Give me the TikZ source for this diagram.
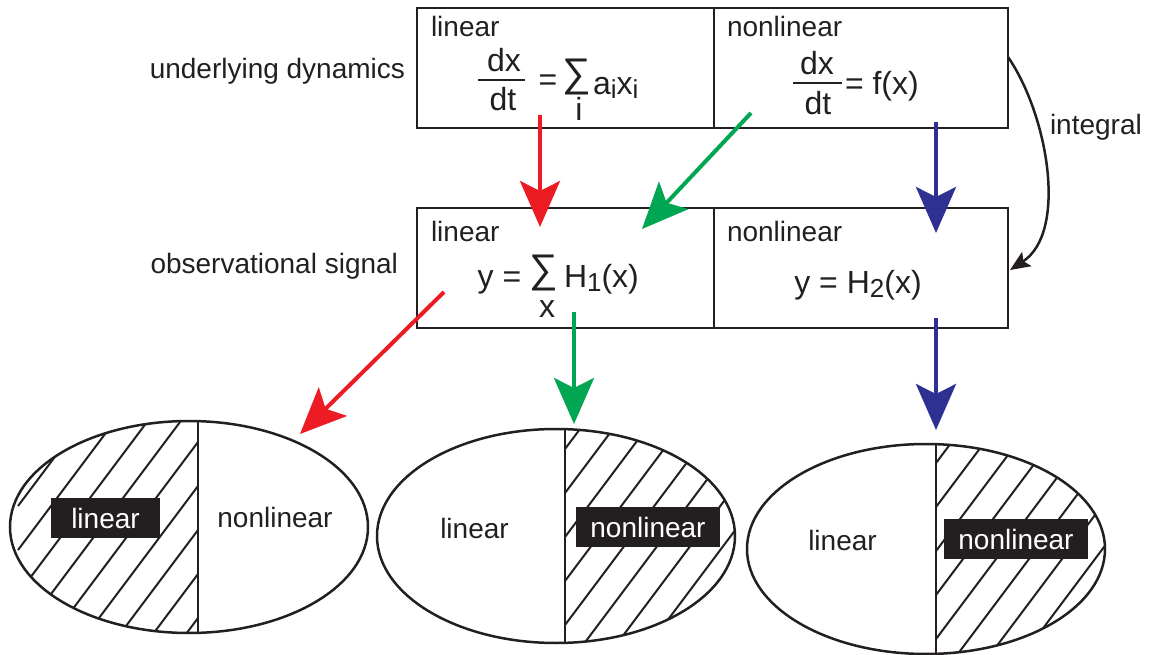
\documentclass[tikz,border=0pt]{standalone}
\usepackage{fontspec}
\setmainfont{Liberation Sans}
\usetikzlibrary{arrows.meta}
\definecolor{ink}{RGB}{35,31,32}
\definecolor{ared}{RGB}{237,28,36}
\definecolor{agreen}{RGB}{0,166,81}
\definecolor{ablue}{RGB}{46,49,146}
\newcommand{\sbs}[1]{\raisebox{-4pt}{\fontsize{26}{26}\selectfont #1}}
\newcommand{\eqf}{\fontsize{32}{38}\selectfont}
\newcommand{\bigsum}{\scalebox{1.25}{∑}}
\begin{document}
\begin{tikzpicture}[x=1pt,y=-1pt,
  every node/.style={inner sep=0pt, outer sep=0pt, text=ink},
  font=\fontsize{28}{34}\selectfont,
  cell/.style={draw=ink, line width=2.5pt, minimum height=120pt},
  bar/.style={draw=ink, line width=2pt},
  oval/.style={draw=ink, line width=2.5pt},
  hatch/.style={draw=ink, line width=2pt},
  tag/.style={fill=ink, text=white, text height=20pt, text depth=0pt, minimum height=40pt},
  arr/.style={line width=4pt, -{Stealth[length=46pt,width=40pt,inset=10pt]}},
  intarr/.style={draw=ink, line width=2.5pt, -{Stealth[length=20pt,width=17pt,inset=4pt]}}
]
\useasboundingbox (0,0) rectangle (1152,655);

% boxes
\node[cell, minimum width=297pt] (tl) at (565.5,68) {};
\node[cell, minimum width=294pt] (tr) at (861,68) {};
\node[cell, minimum width=297pt] (ml) at (565.5,268) {};
\node[cell, minimum width=294pt] (mr) at (861,268) {};

% row labels
\node[anchor=base east] (lud) at (405,79) {underlying dynamics};
\node[anchor=base east] (los) at (398,274) {observational signal};

% cell labels
\node[anchor=base west] (tll) at (431,37) {linear};
\node[anchor=base west] (trl) at (727,37) {nonlinear};
\node[anchor=base west] (mll) at (431,242) {linear};
\node[anchor=base west] (mrl) at (727,242) {nonlinear};

% top-left equation
\node[anchor=base, font=\eqf] (tldx) at (504,72) {dx};
\draw[bar] (478,80) -- (525,80);
\node[anchor=base, font=\eqf] (tldt) at (503,111) {dt};
\node[anchor=base, font=\eqf] (tleq) at (548,91) {=};
\node[font=\eqf] (tlsum) at (577,77) {\bigsum};
\node[anchor=base, font=\eqf] (tli) at (579,121) {i};
\node[anchor=base west, font=\eqf] (tlax) at (593,95) {a\sbs{i}x\sbs{i}};

% top-right equation
\node[anchor=base, font=\eqf] (trdx) at (817,75) {dx};
\draw[bar] (793,83) -- (842,83);
\node[anchor=base, font=\eqf] (trdt) at (818,115) {dt};
\node[anchor=base west, font=\eqf] (trf) at (845,95) {= f(x)};

% middle-left equation
\node[anchor=base, font=\eqf] (mly) at (485.5,288) {y};
\node[anchor=base, font=\eqf] (mleq) at (512,288) {=};
\node[font=\eqf] (mlsum) at (544,273) {\bigsum};
\node[anchor=base, font=\eqf] (mlx) at (547,318) {x};
\node[anchor=base west, font=\eqf] (mlh) at (564,288) {H\sbs{1}(x)};

% middle-right equation
\node[anchor=base, font=\eqf] (mrh) at (858,294) {y = H\sbs{2}(x)};

% integral
\coordinate (ints) at (1008,57);
\coordinate (inte) at (1010,270);
\draw[intarr] (ints) .. controls (1048,115) and (1068,232) .. (inte);
\node[anchor=base west] (intl) at (1050,135) {integral};

% ellipse 1 (hatched left)
\coordinate (e1) at (189,527);
\begin{scope}
  \clip (e1) ellipse [x radius=179pt, y radius=106pt];
  \clip (0,0) rectangle (198,655);
  \foreach \k in {-8,...,8} \draw[hatch] (18,{682+44*\k}) -- ++(360,-480);
\end{scope}
\begin{scope}
  \clip (e1) ellipse [x radius=179pt, y radius=106pt];
  \draw[oval] (198,400) -- (198,660);
\end{scope}
\draw[oval] (e1) ellipse [x radius=179pt, y radius=106pt];
\node[tag, minimum width=109pt] (e1l) at (105.5,518) {linear};
\node[anchor=base] (e1n) at (275,527) {nonlinear};

% ellipse 2 (hatched right)
\coordinate (e2) at (556,536);
\begin{scope}
  \clip (e2) ellipse [x radius=179pt, y radius=107pt];
  \clip (565,0) rectangle (760,655);
  \foreach \k in {-8,...,8} \draw[hatch] (385,{733+44*\k}) -- ++(360,-480);
\end{scope}
\begin{scope}
  \clip (e2) ellipse [x radius=179pt, y radius=107pt];
  \draw[oval] (565,400) -- (565,660);
\end{scope}
\draw[oval] (e2) ellipse [x radius=179pt, y radius=107pt];
\node[anchor=base] (e2l) at (474.5,538) {linear};
\node[tag, minimum width=144pt] (e2n) at (648,527) {nonlinear};

% ellipse 3 (hatched right)
\coordinate (e3) at (926,549);
\begin{scope}
  \clip (e3) ellipse [x radius=179pt, y radius=105pt];
  \clip (936,0) rectangle (1152,655);
  \foreach \k in {-8,...,8} \draw[hatch] (756,{747+44*\k}) -- ++(360,-480);
\end{scope}
\begin{scope}
  \clip (e3) ellipse [x radius=179pt, y radius=105pt];
  \draw[oval] (936,400) -- (936,660);
\end{scope}
\draw[oval] (e3) ellipse [x radius=179pt, y radius=105pt];
\node[anchor=base] (e3l) at (842.5,550) {linear};
\node[tag, minimum width=144pt] (e3n) at (1016,539) {nonlinear};

% arrows
\coordinate (r1s) at (540,115);  \coordinate (r1e) at (540,227);
\coordinate (g1s) at (751,113);  \coordinate (g1e) at (642,229);
\coordinate (b1s) at (936,122);  \coordinate (b1e) at (936,233);
\coordinate (r2s) at (444,292);  \coordinate (r2e) at (300,434);
\coordinate (g2s) at (574,312);  \coordinate (g2e) at (574,424);
\coordinate (b2s) at (936,318);  \coordinate (b2e) at (936,430);
\draw[arr, draw=ared, fill=ared] (r1s) -- (r1e);
\draw[arr, draw=agreen, fill=agreen] (g1s) -- (g1e);
\draw[arr, draw=ablue, fill=ablue] (b1s) -- (b1e);
\draw[arr, draw=ared, fill=ared] (r2s) -- (r2e);
\draw[arr, draw=agreen, fill=agreen] (g2s) -- (g2e);
\draw[arr, draw=ablue, fill=ablue] (b2s) -- (b2e);
\end{tikzpicture}
\end{document}
